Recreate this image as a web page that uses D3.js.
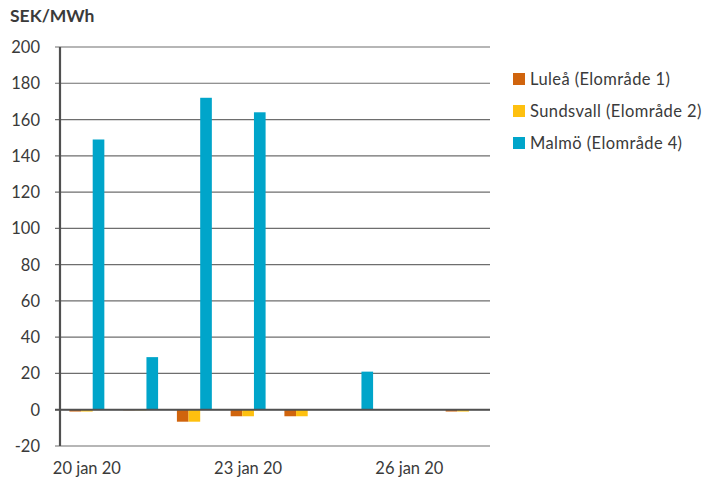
<!DOCTYPE html>
<html>
<head>
<meta charset="utf-8">
<script src="https://cdn.jsdelivr.net/npm/d3@7"></script>
<style>
  body { margin: 0; background: #fff; overflow: hidden; }
  text { font-family: Lato, "Open Sans", sans-serif; fill: #3a3a3a; }
</style>
</head>
<body>
<div id="chart"></div>
<script>
// data
let days = ["20 jan 20", "21 jan 20", "22 jan 20", "23 jan 20", "24 jan 20", "25 jan 20", "26 jan 20", "27 jan 20"];
let shownDays = ["20 jan 20", "23 jan 20", "26 jan 20"];
let series = ["Luleå (Elområde 1)", "Sundsvall (Elområde 2)", "Malmö (Elområde 4)"];
let lulea = [-1, -0.3, -6.6, -3.6, -3.6, 0, 0, -1];
let sundsvall = [-1, -0.3, -6.6, -3.6, -3.6, 0, 0, -1];
let malmo = [149, 29, 172, 164, 0, 21, 0, 0];
let yTicks = [-20, 0, 20, 40, 60, 80, 100, 120, 140, 160, 180, 200];
let colors = ["#d0640d", "#fec00f", "#00a5ca"];

let values = [lulea, sundsvall, malmo];
let rows = days.map((d, i) => ({ day: d, vals: values.map((s) => s[i]) }));

let width = 708, height = 482;
let plotLeft = 60, plotRight = 490, plotTop = 47, plotBottom = 446;

let svg = d3.select("#chart").append("svg")
  .attr("width", width).attr("height", height)
  .style("display", "block");

let xScale = d3.scaleBand().domain(days).range([plotLeft, plotRight]).paddingInner(0.35).paddingOuter(0.175);
let inner = d3.scaleBand().domain(d3.range(series.length)).range([0, xScale.bandwidth()]);
let yScale = d3.scaleLinear().domain([-20, 200]).range([plotBottom, plotTop]);

// gridlines
svg.append("g").selectAll("line")
  .data(yTicks)
  .enter().append("line")
  .attr("x1", plotLeft - 5).attr("x2", plotRight)
  .attr("y1", (d) => yScale(d)).attr("y2", (d) => yScale(d))
  .attr("stroke", "#6e6e6e").attr("stroke-width", 1.2);

// y labels
svg.append("g").selectAll("text")
  .data(yTicks)
  .enter().append("text")
  .attr("x", 40).attr("y", (d) => yScale(d) + 6)
  .attr("text-anchor", "end")
  .style("font-size", "16.5px")
  .text((d) => d);

// bars
let groups = svg.append("g").selectAll("g")
  .data(rows)
  .enter().append("g")
  .attr("transform", (d) => "translate(" + xScale(d.day) + ",0)");

groups.selectAll("rect")
  .data((d) => d.vals)
  .enter().append("rect")
  .attr("x", (d, i) => inner(i))
  .attr("width", inner.bandwidth())
  .attr("y", (d) => yScale(Math.max(0, d)))
  .attr("height", (d) => Math.abs(yScale(d) - yScale(0)))
  .attr("fill", (d, i) => colors[i]);

// zero line and y axis
svg.append("line")
  .attr("x1", plotLeft - 5).attr("x2", plotRight)
  .attr("y1", yScale(0)).attr("y2", yScale(0))
  .attr("stroke", "#505050").attr("stroke-width", 2.2);
svg.append("line")
  .attr("x1", plotLeft).attr("x2", plotLeft)
  .attr("y1", yScale(200)).attr("y2", yScale(-20))
  .attr("stroke", "#505050").attr("stroke-width", 2.2);

// x labels
svg.append("g").selectAll("text")
  .data(shownDays)
  .enter().append("text")
  .attr("x", (d) => xScale(d) + xScale.bandwidth() / 2)
  .attr("y", 474)
  .attr("text-anchor", "middle")
  .style("font-size", "16.5px")
  .text((d) => d);

// title
svg.append("text")
  .attr("x", 10).attr("y", 22)
  .style("font-size", "17.5px").style("font-weight", "bold")
  .text("SEK/MWh");

// legend
let legend = svg.append("g").attr("transform", "translate(513,73)");
legend.selectAll("rect")
  .data(series)
  .enter().append("rect")
  .attr("x", 0).attr("y", (d, i) => i * 32)
  .attr("width", 12).attr("height", 12)
  .attr("fill", (d, i) => colors[i]);
legend.selectAll("text")
  .data(series)
  .enter().append("text")
  .attr("x", 17).attr("y", (d, i) => i * 32 + 12)
  .style("font-size", "16.5px")
  .style("letter-spacing", "0.4px")
  .text((d) => d);
</script>
</body>
</html>
